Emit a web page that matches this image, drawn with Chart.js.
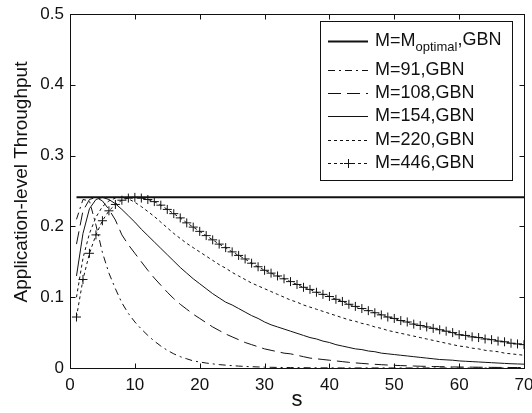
<!DOCTYPE html>
<html lang="en">
<head>
<meta charset="UTF-8">
<title>Application-level Throughput</title>
<script src="https://cdn.jsdelivr.net/npm/chart.js"></script>
<style>
  body { margin: 0; background: #fff; }
  #wrap { width: 532px; height: 413px; }
</style>
</head>
<body>
<div id="wrap"><canvas id="thr"></canvas></div>
<script>
// window size s
const sVals = [1,2,3,4,5,6,7,8,9,10,11,12,13,14,15,16,17,18,19,20,
  21,22,23,24,25,26,27,28,29,30,31,32,33,34,35,36,37,38,39,40,
  41,42,43,44,45,46,47,48,49,50,51,52,53,54,55,56,57,58,59,60,
  61,62,63,64,65,66,67,68,69,70];

// M = M_optimal is flat
const optS = [1, 70];
const optVals = [0.241, 0.241];

const m91 = [0.210,0.238,0.236,0.202,0.163,0.134,0.112,0.092,0.077,0.065,
  0.055,0.046,0.038,0.031,0.025,0.020,0.016,0.013,0.010,0.0085,
  0.007,0.0058,0.0048,0.004,0.0033,0.0027,0.0022,0.0018,0.0015,0.0012,
  0.001,0.0008,0.0007,0.0006,0.0005,0.0004,0.0003,0.0003,0.0002,0.0002,
  0.0001,0.0001,0.0001,0.0001,0.0001,0.0001,0.0001,0.0001,0.0001,0.0001,
  0.0001,0.0001,0.0001,0.0001,0.0001,0,0,0,0,0,
  0,0,0,0,0,0,0,0,0,0];

const m108 = [0.175,0.222,0.238,0.241,0.236,0.224,0.209,0.188,0.174,0.162,
  0.150,0.138,0.127,0.117,0.107,0.098,0.090,0.083,0.076,0.070,
  0.064,0.058,0.053,0.048,0.044,0.040,0.036,0.033,0.030,0.027,
  0.025,0.023,0.021,0.020,0.018,0.016,0.014,0.013,0.012,0.011,
  0.010,0.009,0.008,0.0072,0.0065,0.0058,0.0052,0.0047,0.0042,0.0038,
  0.0034,0.0031,0.0028,0.0025,0.0023,0.0021,0.0019,0.0017,0.0015,0.0014,
  0.0013,0.0012,0.0011,0.001,0.0009,0.0008,0.0008,0.0007,0.0007,0.0006];

const m154 = [0.130,0.190,0.225,0.238,0.241,0.238,0.232,0.224,0.215,0.206,
  0.196,0.187,0.178,0.169,0.160,0.151,0.142,0.134,0.126,0.119,
  0.112,0.105,0.099,0.093,0.089,0.084,0.079,0.074,0.070,0.065,
  0.061,0.058,0.055,0.052,0.049,0.046,0.043,0.041,0.038,0.036,
  0.033,0.031,0.029,0.027,0.026,0.024,0.023,0.021,0.020,0.019,
  0.018,0.017,0.016,0.015,0.014,0.013,0.012,0.0115,0.011,0.010,
  0.0095,0.009,0.0085,0.008,0.0075,0.007,0.0065,0.006,0.0057,0.0054];

const m220 = [0.100,0.155,0.190,0.213,0.228,0.236,0.240,0.241,0.239,0.234,
  0.228,0.221,0.214,0.206,0.198,0.190,0.183,0.176,0.170,0.164,
  0.158,0.152,0.146,0.141,0.135,0.130,0.125,0.120,0.116,0.112,
  0.108,0.104,0.100,0.096,0.093,0.089,0.086,0.083,0.080,0.077,
  0.074,0.071,0.068,0.066,0.063,0.061,0.058,0.056,0.053,0.051,
  0.049,0.047,0.045,0.043,0.041,0.039,0.037,0.035,0.033,0.031,
  0.030,0.028,0.027,0.025,0.024,0.023,0.021,0.020,0.019,0.018];

const m446 = [0.072,0.125,0.162,0.188,0.208,0.222,0.231,0.237,0.240,0.241,
  0.240,0.238,0.235,0.230,0.224,0.218,0.212,0.205,0.199,0.193,
  0.187,0.181,0.175,0.170,0.164,0.159,0.154,0.148,0.143,0.138,
  0.134,0.130,0.126,0.122,0.118,0.114,0.111,0.107,0.104,0.101,
  0.097,0.094,0.090,0.087,0.084,0.081,0.078,0.075,0.072,0.070,
  0.067,0.065,0.062,0.060,0.058,0.056,0.054,0.052,0.050,0.047,
  0.046,0.044,0.043,0.041,0.040,0.038,0.037,0.035,0.034,0.033];

const yTitle = 'Application-level Throughput';
const xTitle = 's';

const FONT = "'Liberation Sans', Arial, Helvetica, sans-serif";
const INK = '#111';

function pts(xs, ys) {
    return xs.map((x, i) => ({ x: x, y: ys[i] }));
}

// legend entries: text parts [main, subscript, rest]
const legendItems = [
    { parts: ['M=M', 'optimal', ',GBN'], width: 2, dash: [] },
    { parts: ['M=91,GBN'], width: 1, dash: [7, 4, 2, 4] },
    { parts: ['M=108,GBN'], width: 1, dash: [13, 6] },
    { parts: ['M=154,GBN'], width: 1, dash: [] },
    { parts: ['M=220,GBN'], width: 1, dash: [3, 3] },
    { parts: ['M=446,GBN'], width: 1, dash: [3, 3], cross: true }
];
const legendRows = [41, 70, 93, 116, 140, 163];

// box + inward ticks like matlab, legend and y title
const framePlugin = {
    id: 'frame',
    afterDatasetsDraw(chart) {
        const ctx = chart.ctx;
        const a = chart.chartArea;
        const xs = chart.scales.x, ys = chart.scales.y;
        ctx.save();
        ctx.strokeStyle = INK;
        ctx.lineWidth = 1;
        ctx.setLineDash([]);
        const L = Math.round(a.left) + 0.5, R = Math.round(a.right) + 0.5;
        const T = Math.round(a.top) + 0.5, B = Math.round(a.bottom) + 0.5;
        ctx.strokeRect(L, T, R - L, B - T);
        ctx.beginPath();
        xs.ticks.forEach(t => {
            if (t.value <= xs.min || t.value >= xs.max) return;
            const px = Math.round(xs.getPixelForValue(t.value)) + 0.5;
            ctx.moveTo(px, B); ctx.lineTo(px, B - 5);
            ctx.moveTo(px, T); ctx.lineTo(px, T + 5);
        });
        ys.ticks.forEach(t => {
            if (t.value <= ys.min || t.value >= ys.max) return;
            const py = Math.round(ys.getPixelForValue(t.value)) + 0.5;
            ctx.moveTo(L, py); ctx.lineTo(L + 5, py);
            ctx.moveTo(R, py); ctx.lineTo(R - 5, py);
        });
        ctx.stroke();
        ctx.restore();
    },
    afterDraw(chart) {
        const ctx = chart.ctx;
        ctx.save();
        // y title, sits a bit above the plot centre
        ctx.fillStyle = INK;
        ctx.font = '19px ' + FONT;
        ctx.textAlign = 'center';
        ctx.textBaseline = 'middle';
        ctx.translate(22, 182);
        ctx.rotate(-Math.PI / 2);
        ctx.fillText(yTitle, 0, 0);
        ctx.setTransform(1, 0, 0, 1, 0, 0);

        // legend box
        ctx.fillStyle = '#fff';
        ctx.fillRect(320.5, 21.5, 192, 159);
        ctx.strokeStyle = INK;
        ctx.lineWidth = 1;
        ctx.strokeRect(320.5, 21.5, 192, 159);
        ctx.textBaseline = 'middle';
        ctx.textAlign = 'left';
        legendItems.forEach((it, i) => {
            const y = legendRows[i] + 0.5;
            ctx.strokeStyle = INK;
            ctx.lineWidth = it.width;
            ctx.setLineDash(it.dash);
            ctx.beginPath();
            ctx.moveTo(328, y); ctx.lineTo(368, y);
            ctx.stroke();
            ctx.setLineDash([]);
            if (it.cross) {
                ctx.lineWidth = 1;
                ctx.beginPath();
                ctx.moveTo(344, y); ctx.lineTo(353, y);
                ctx.moveTo(348.5, y - 4.5); ctx.lineTo(348.5, y + 4.5);
                ctx.stroke();
            }
            ctx.fillStyle = INK;
            let x = 375;
            ctx.font = '18px ' + FONT;
            ctx.fillText(it.parts[0], x, y);
            x += ctx.measureText(it.parts[0]).width;
            if (it.parts.length > 1) {
                ctx.font = '13px ' + FONT;
                ctx.fillText(it.parts[1], x, y + 6);
                x += ctx.measureText(it.parts[1]).width;
                ctx.font = '18px ' + FONT;
                ctx.fillText(it.parts[2], x, y - 1);
            }
        });
        ctx.restore();
    }
};

function lineSet(label, xs, ys, width, dash, extra) {
    return Object.assign({
        label: label,
        data: pts(xs, ys),
        borderColor: INK,
        backgroundColor: INK,
        borderWidth: width,
        borderDash: dash,
        pointRadius: 0,
        fill: false,
        tension: 0
    }, extra || {});
}

const ctx = document.getElementById('thr').getContext('2d');
new Chart(ctx, {
    type: 'line',
    data: {
        datasets: [
            lineSet('M=M_optimal,GBN', optS, optVals, 2, []),
            lineSet('M=91,GBN', sVals, m91, 1, [7, 4, 2, 4]),
            lineSet('M=108,GBN', sVals, m108, 1, [13, 6]),
            lineSet('M=154,GBN', sVals, m154, 1, []),
            lineSet('M=220,GBN', sVals, m220, 1, [3, 3]),
            lineSet('M=446,GBN', sVals, m446, 1, [3, 3], {
                pointStyle: 'cross', pointRadius: 4.5, pointBorderWidth: 1,
                pointBorderColor: INK
            })
        ]
    },
    options: {
        responsive: true,
        maintainAspectRatio: false,
        animation: false,
        devicePixelRatio: 1,
        layout: { padding: { left: 0, right: 8, top: 14, bottom: 0 } },
        plugins: { legend: { display: false }, tooltip: { enabled: false } },
        scales: {
            x: {
                type: 'linear', min: 0, max: 70,
                grid: { display: false, drawTicks: false },
                border: { display: false },
                ticks: { stepSize: 10, padding: 7, color: INK, font: { family: FONT, size: 17 } },
                title: { display: true, text: xTitle, color: INK, padding: 0, font: { family: FONT, size: 22 } },
                afterFit(scale) { scale.height = 45; scale.paddingLeft = 0; scale.paddingRight = 0; }
            },
            y: {
                min: 0, max: 0.5,
                grid: { display: false, drawTicks: false },
                border: { display: false },
                ticks: { stepSize: 0.1, padding: 6, color: INK, font: { family: FONT, size: 17 } },
                afterFit(scale) { scale.width = 70; scale.paddingTop = 0; scale.paddingBottom = 0; }
            }
        }
    },
    plugins: [framePlugin]
});
</script>
</body>
</html>
